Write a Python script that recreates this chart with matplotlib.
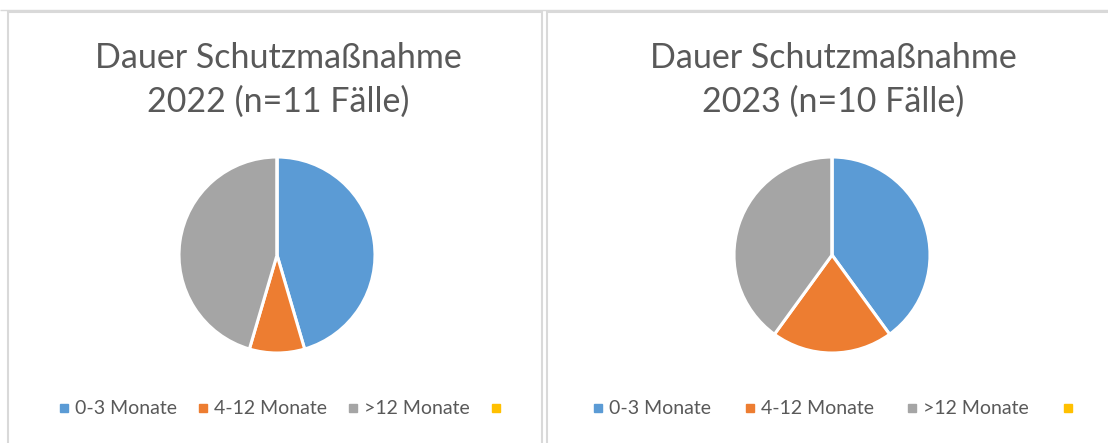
import matplotlib

matplotlib.use("Agg")

from matplotlib import pyplot as plt  # noqa: E402
from matplotlib.lines import Line2D  # noqa: E402
from matplotlib.patches import Rectangle  # noqa: E402

categories = ["0-3 Monate", "4-12 Monate", ">12 Monate", ""]
colors = ["#5B9BD5", "#ED7D31", "#A5A5A5", "#FFC000"]
titles = ["Dauer Schutzmaßnahme\n2022 (n=11 Fälle)", "Dauer Schutzmaßnahme\n2023 (n=10 Fälle)"]
values_2022 = [5, 1, 5, 0]
values_2023 = [4, 2, 4, 0]

W, H = 1108, 443
FONT = ["Lato", "DejaVu Sans"]
TEXT_GREY = "#595959"

fig = plt.figure(figsize=(W / 100, H / 100), dpi=100)
fig.patch.set_facecolor("white")


def px_box(x0, y0, x1, y1):
    """Pixel box (top-left origin) -> figure fraction rect."""
    return [x0 / W, 1 - y1 / H, (x1 - x0) / W, (y1 - y0) / H]


# panel frames
fig.add_artist(Rectangle((0, 1 - 10 / H), 1, 0.0, transform=fig.transFigure,
                         edgecolor="#D9D9D9", linewidth=1.0, fill=False))
for x0, x1 in [(8, 542), (547, 1120)]:
    r = px_box(x0, 12, x1, 460)
    fig.add_artist(Rectangle((r[0], r[1]), r[2], r[3], transform=fig.transFigure,
                             edgecolor="#D9D9D9", linewidth=1.5, fill=False))

# (pie centre x, pie centre y, values, title, legend centre x, legend column spacing)
panels = [
    (277, 255, values_2022, titles[0], 281, 0.9),
    (832, 255, values_2023, titles[1], 834, 1.55),
]
for cx, cy, values, title, lx, colspace in panels:
    radius = 98
    ax = fig.add_axes(px_box(cx - radius, cy - radius, cx + radius, cy + radius))
    ax.pie(values, colors=colors, startangle=90, counterclock=False,
           wedgeprops={"edgecolor": "white", "linewidth": 2.2})
    ax.set_xlim(-1.0, 1.0)
    ax.set_ylim(-1.0, 1.0)
    ax.set_aspect("equal")
    ax.axis("off")

    fig.text((cx + 1) / W, 1 - 80 / H, title, ha="center", va="center", fontsize=24.5,
             color=TEXT_GREY, family=FONT, linespacing=1.45)

    handles = [Line2D([], [], marker="s", linestyle="none", markersize=6,
                      markerfacecolor=c, markeredgecolor=c) for c in colors]
    fig.legend(handles, categories, loc="center", ncol=4, frameon=False,
               bbox_to_anchor=(lx / W, 1 - 409 / H),
               prop={"family": FONT, "size": 14}, labelcolor=TEXT_GREY,
               handletextpad=0.1, columnspacing=colspace, handlelength=0.9)

fig.savefig("out.png", dpi=100, facecolor="white")
